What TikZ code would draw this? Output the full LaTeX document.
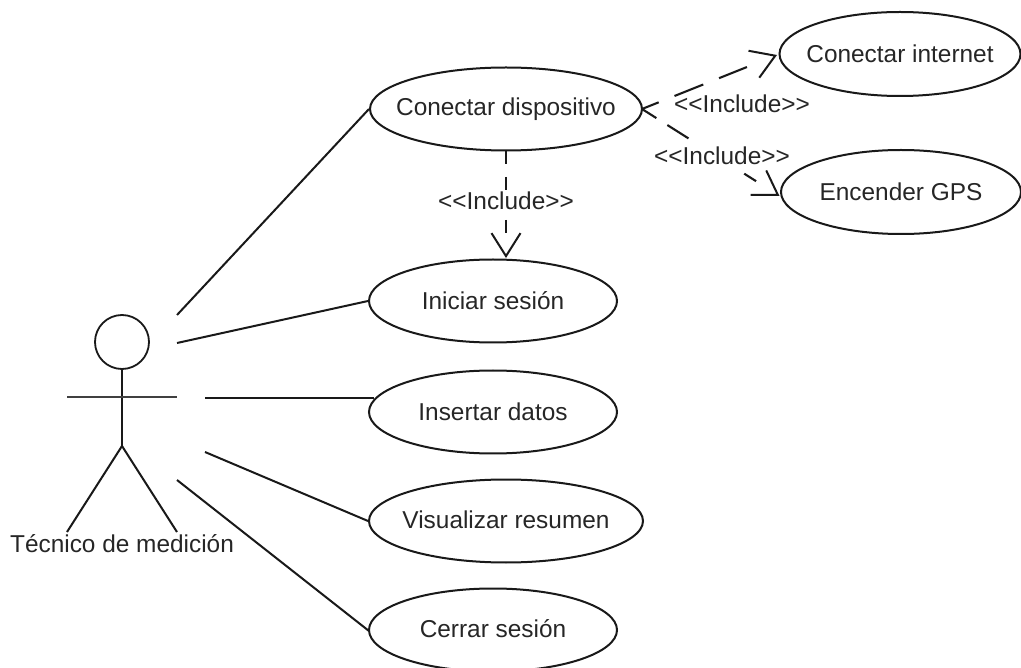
\documentclass[tikz,border=0pt]{standalone}
\usepackage{fontspec}
\setmainfont{Liberation Sans}
\usetikzlibrary{shapes.geometric,arrows.meta}
\newcommand{\uctext}[2][0pt]{\makebox[0pt]{\raisebox{#1}{#2}}}
\tikzset{
  x=1pt,y=-1pt,
  usecase/.style={draw=black!90,line width=2pt,ellipse,inner sep=0pt,minimum height=83pt,font=\fontsize{24.4}{28}\selectfont,text=black!85},
  lbl/.style={inner sep=0pt,font=\fontsize{24.4}{28}\selectfont,text=black!85},
  assoc/.style={line width=2pt,draw=black!90},
  dep/.style={line width=2.1pt,draw=black!90,-{Straight Barb[length=23pt,width=29pt,line width=2pt]}},
}
\begin{document}
\begin{tikzpicture}
\useasboundingbox[clip] (0,0) rectangle (1021,668);
% use cases
\node[usecase,minimum width=272pt] (disp) at (506,109) {\uctext{Conectar dispositivo}};
\node[usecase,minimum width=248pt] (ini) at (493,301) {\uctext{Iniciar sesión}};
\node[usecase,minimum width=248pt] (ins) at (493,412) {\uctext{Insertar datos}};
\node[usecase,minimum width=274pt] (vis) at (506,521) {\uctext[2pt]{Visualizar resumen}};
\node[usecase,minimum width=248pt] (cer) at (493,630) {\uctext[2pt]{Cerrar sesión}};
\node[usecase,minimum width=241pt,minimum height=84pt] (inet) at (900,54) {\uctext{Conectar internet}};
\node[usecase,minimum width=240pt,minimum height=84pt] (gps) at (901,192) {\uctext{Encender GPS}};
% actor
\node[draw=black!90,line width=1.8pt,circle,minimum size=54pt,inner sep=0pt] (head) at (122,342) {};
\coordinate (hip) at (122,446);
\coordinate (armL) at (67,397);
\coordinate (armR) at (177,397);
\coordinate (legL) at (67,532);
\coordinate (legR) at (177,532);
\draw[assoc] (head.south) -- (hip);
\draw[line width=1.5pt,draw=black!75] (armL) -- (armR);
\draw[assoc] (legL) -- (hip) -- (legR);
\node[lbl] (actor) at (122,544) {Técnico de medición};
% associations
\coordinate (a1) at (177,315);
\coordinate (a2) at (177,343);
\coordinate (a3) at (205,398);
\coordinate (a4) at (205,452);
\coordinate (a5) at (177,480);
\coordinate (e3) at (374,398);
\coordinate (e5) at (369,631);
\draw[assoc] (a1) -- (disp.west);
\draw[assoc] (a2) -- (ini.west);
\draw[assoc,line width=2.3pt] (a3) -- (e3);
\draw[assoc] (a4) -- (vis.west);
\draw[assoc] (a5) -- (e5);
% includes
\coordinate (s) at (642,109);
\coordinate (t1) at (777,55);
\coordinate (t2) at (779.5,196);
\coordinate (v1) at (506,150);
\coordinate (v2) at (506,258);
\draw[dep,dash pattern=on 18pt off 17pt on 31pt off 17pt on 30pt off 100pt] (s) -- (t1);
\draw[dep,dash pattern=on 17pt off 13pt on 25pt off 66pt on 14pt off 100pt] (s) -- (t2);
\draw[dep,dash pattern=on 14pt off 13pt on 13pt off 30pt on 13pt off 100pt] (v1) -- (v2);
\node[lbl] (l3) at (722,156) {<{}<Include>{}>};
\node[lbl] (l1) at (742,104) {<{}<Include>{}>};
\node[lbl] (l2) at (506,201) {<{}<Include>{}>};
\end{tikzpicture}
\end{document}
